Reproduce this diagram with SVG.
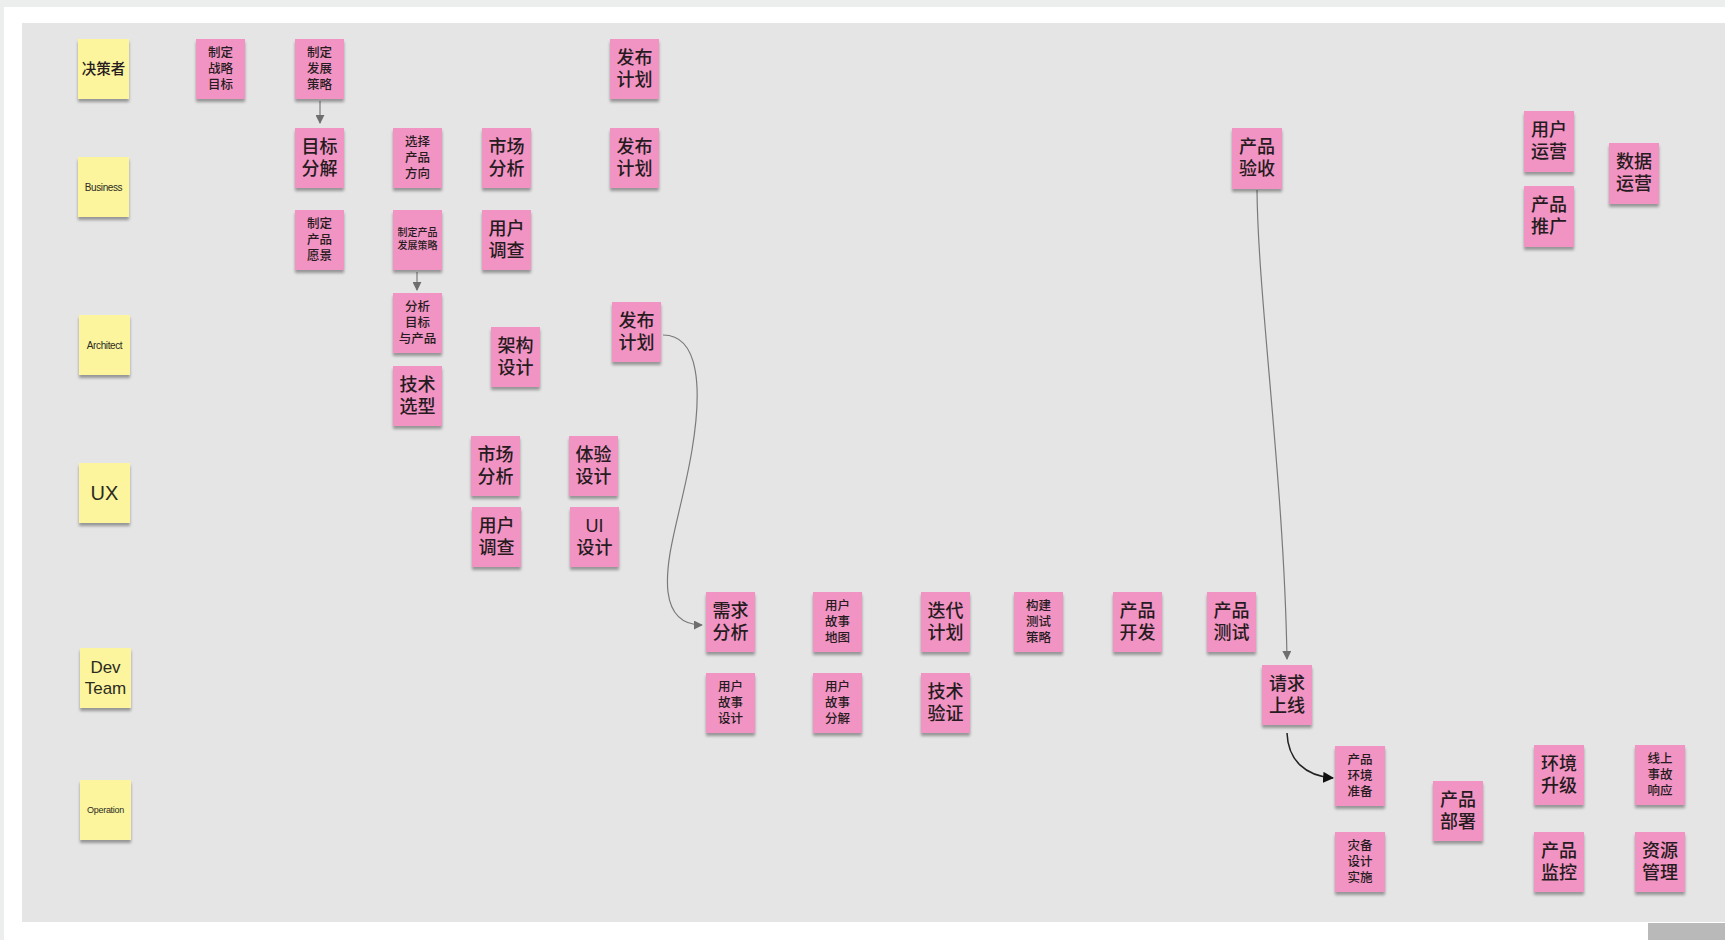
<svg xmlns="http://www.w3.org/2000/svg" width="1725" height="940" viewBox="0 0 1725 940">
<defs>
<filter id="sh" x="-20%" y="-20%" width="140%" height="150%">
<feDropShadow dx="0" dy="3" stdDeviation="1.8" flood-color="#000" flood-opacity="0.35"/>
</filter>
<marker id="ag" viewBox="0 0 10 10" refX="9" refY="5" markerWidth="9" markerHeight="9" markerUnits="userSpaceOnUse" orient="auto">
<path d="M0,0 L10,5 L0,10 z" fill="#6e6e6e"/>
</marker>
<marker id="ab" viewBox="0 0 10 10" refX="9" refY="5" markerWidth="11" markerHeight="11" markerUnits="userSpaceOnUse" orient="auto">
<path d="M0,0 L10,5 L0,10 z" fill="#111"/>
</marker>
</defs>
<style>
.p{fill:#f194c3;filter:url(#sh)}
.y{fill:#fcf59e;filter:url(#sh)}
text{font-family:"Liberation Sans","Noto Sans CJK SC",sans-serif;font-weight:500;fill:#261b20;text-anchor:middle;dominant-baseline:central}
.tl{font-size:18px}
.ts{font-size:12.5px}
.tt{font-size:10px}
.en{font-weight:400;fill:#2b2b1e}
.c{fill:none;stroke:#7a7a7a;stroke-width:1.2}
.cb{fill:none;stroke:#222;stroke-width:1.5}
</style>
<rect x="0" y="0" width="1725" height="940" fill="#ffffff"/>
<rect x="0" y="0" width="1725" height="7" fill="#eceeee"/>
<rect x="0" y="0" width="4" height="940" fill="#eceeee"/>
<rect x="22" y="23" width="1703" height="899" fill="#e5e5e5"/>
<rect x="1648" y="923" width="77" height="17" fill="#b9b9b9"/>

<g id="connectors">
<line class="c" x1="320" y1="101" x2="320" y2="123" marker-end="url(#ag)"/>
<line class="c" x1="417" y1="272" x2="417" y2="290" marker-end="url(#ag)"/>
<path class="c" d="M663,335 C700,335 702,390 692,450 S664,555 668,592 C671,616 684,625 702,625" marker-end="url(#ag)"/>
<path class="c" d="M1257,190 C1258,300 1284,480 1287,659" marker-end="url(#ag)"/>
<path class="cb" d="M1287,733 C1288,760 1305,776 1333,778" marker-end="url(#ab)"/>
</g>

<g id="lane-decider"><rect class="y" x="78" y="39" width="51" height="60"/><text x="103.5" y="69" font-size="14.5">决策者</text></g>
<g id="lane-business"><rect class="y" x="78" y="157" width="51" height="60"/><text class="en" x="103.5" y="187" font-size="10" letter-spacing="-0.4">Business</text></g>
<g id="lane-architect"><rect class="y" x="79" y="315" width="51" height="60"/><text class="en" x="104.5" y="345" font-size="10" letter-spacing="-0.4">Architect</text></g>
<g id="lane-ux"><rect class="y" x="79" y="463" width="51" height="60"/><text class="en" x="104.5" y="493" font-size="20">UX</text></g>
<g id="lane-dev"><rect class="y" x="80" y="648" width="51" height="60"/><text class="en" x="105.5" font-size="17"><tspan x="105.5" y="667">Dev</tspan><tspan x="105.5" y="688">Team</tspan></text></g>
<g id="lane-ops"><rect class="y" x="80" y="780" width="51" height="60"/><text class="en" x="105.5" y="810" font-size="9" letter-spacing="-0.3">Operation</text></g>

<g id="n-zhiding-zhanlue"><rect class="p" x="196" y="39" width="49" height="60"/><text class="ts"><tspan x="220.5" y="53">制定</tspan><tspan x="220.5" y="69">战略</tspan><tspan x="220.5" y="85">目标</tspan></text></g>
<g id="n-zhiding-fazhan"><rect class="p" x="295" y="39" width="49" height="60"/><text class="ts"><tspan x="319.5" y="53">制定</tspan><tspan x="319.5" y="69">发展</tspan><tspan x="319.5" y="85">策略</tspan></text></g>
<g id="n-fabu-1"><rect class="p" x="610" y="39" width="49" height="60"/><text class="tl"><tspan x="634.5" y="58">发布</tspan><tspan x="634.5" y="80">计划</tspan></text></g>

<g id="n-mubiao-fenjie"><rect class="p" x="295" y="128" width="49" height="60"/><text class="tl"><tspan x="319.5" y="147">目标</tspan><tspan x="319.5" y="169">分解</tspan></text></g>
<g id="n-xuanze"><rect class="p" x="393" y="128" width="49" height="60"/><text class="ts"><tspan x="417.5" y="142">选择</tspan><tspan x="417.5" y="158">产品</tspan><tspan x="417.5" y="174">方向</tspan></text></g>
<g id="n-shichang-1"><rect class="p" x="482" y="128" width="49" height="60"/><text class="tl"><tspan x="506.5" y="147">市场</tspan><tspan x="506.5" y="169">分析</tspan></text></g>
<g id="n-fabu-2"><rect class="p" x="610" y="128" width="49" height="60"/><text class="tl"><tspan x="634.5" y="147">发布</tspan><tspan x="634.5" y="169">计划</tspan></text></g>
<g id="n-chanpin-yanshou"><rect class="p" x="1232" y="128" width="50" height="61"/><text class="tl"><tspan x="1257" y="147">产品</tspan><tspan x="1257" y="169">验收</tspan></text></g>
<g id="n-yonghu-yunying"><rect class="p" x="1524" y="111" width="50" height="61"/><text class="tl"><tspan x="1549" y="130">用户</tspan><tspan x="1549" y="152">运营</tspan></text></g>
<g id="n-chanpin-tuiguang"><rect class="p" x="1524" y="186" width="50" height="61"/><text class="tl"><tspan x="1549" y="205">产品</tspan><tspan x="1549" y="227">推广</tspan></text></g>
<g id="n-shuju-yunying"><rect class="p" x="1609" y="143" width="50" height="61"/><text class="tl"><tspan x="1634" y="162">数据</tspan><tspan x="1634" y="184">运营</tspan></text></g>

<g id="n-yuanjing"><rect class="p" x="295" y="210" width="49" height="60"/><text class="ts"><tspan x="319.5" y="224">制定</tspan><tspan x="319.5" y="240">产品</tspan><tspan x="319.5" y="256">愿景</tspan></text></g>
<g id="n-chanpin-celue"><rect class="p" x="393" y="210" width="49" height="60"/><text class="tt"><tspan x="417.5" y="232">制定产品</tspan><tspan x="417.5" y="245">发展策略</tspan></text></g>
<g id="n-diaocha-1"><rect class="p" x="482" y="210" width="49" height="60"/><text class="tl"><tspan x="506.5" y="229">用户</tspan><tspan x="506.5" y="251">调查</tspan></text></g>

<g id="n-fenxi-mubiao"><rect class="p" x="393" y="293" width="49" height="60"/><text class="ts"><tspan x="417.5" y="307">分析</tspan><tspan x="417.5" y="323">目标</tspan><tspan x="417.5" y="339">与产品</tspan></text></g>
<g id="n-jiagou"><rect class="p" x="491" y="327" width="49" height="60"/><text class="tl"><tspan x="515.5" y="346">架构</tspan><tspan x="515.5" y="368">设计</tspan></text></g>
<g id="n-fabu-3"><rect class="p" x="612" y="302" width="49" height="60"/><text class="tl"><tspan x="636.5" y="321">发布</tspan><tspan x="636.5" y="343">计划</tspan></text></g>
<g id="n-jishu-xuanxing"><rect class="p" x="393" y="366" width="49" height="60"/><text class="tl"><tspan x="417.5" y="385">技术</tspan><tspan x="417.5" y="407">选型</tspan></text></g>

<g id="n-shichang-2"><rect class="p" x="471" y="436" width="49" height="60"/><text class="tl"><tspan x="495.5" y="455">市场</tspan><tspan x="495.5" y="477">分析</tspan></text></g>
<g id="n-tiyan"><rect class="p" x="569" y="436" width="49" height="60"/><text class="tl"><tspan x="593.5" y="455">体验</tspan><tspan x="593.5" y="477">设计</tspan></text></g>
<g id="n-diaocha-2"><rect class="p" x="472" y="507" width="49" height="60"/><text class="tl"><tspan x="496.5" y="526">用户</tspan><tspan x="496.5" y="548">调查</tspan></text></g>
<g id="n-ui"><rect class="p" x="570" y="507" width="49" height="60"/><text class="tl"><tspan x="594.5" y="526">UI</tspan><tspan x="594.5" y="548">设计</tspan></text></g>

<g id="n-xuqiu"><rect class="p" x="706" y="592" width="49" height="60"/><text class="tl"><tspan x="730.5" y="611">需求</tspan><tspan x="730.5" y="633">分析</tspan></text></g>
<g id="n-gushi-ditu"><rect class="p" x="813" y="592" width="49" height="60"/><text class="ts"><tspan x="837.5" y="606">用户</tspan><tspan x="837.5" y="622">故事</tspan><tspan x="837.5" y="638">地图</tspan></text></g>
<g id="n-diedai"><rect class="p" x="921" y="592" width="49" height="60"/><text class="tl"><tspan x="945.5" y="611">迭代</tspan><tspan x="945.5" y="633">计划</tspan></text></g>
<g id="n-ceshi-celue"><rect class="p" x="1014" y="592" width="49" height="60"/><text class="ts"><tspan x="1038.5" y="606">构建</tspan><tspan x="1038.5" y="622">测试</tspan><tspan x="1038.5" y="638">策略</tspan></text></g>
<g id="n-kaifa"><rect class="p" x="1113" y="592" width="49" height="60"/><text class="tl"><tspan x="1137.5" y="611">产品</tspan><tspan x="1137.5" y="633">开发</tspan></text></g>
<g id="n-ceshi"><rect class="p" x="1207" y="592" width="49" height="60"/><text class="tl"><tspan x="1231.5" y="611">产品</tspan><tspan x="1231.5" y="633">测试</tspan></text></g>
<g id="n-gushi-sheji"><rect class="p" x="706" y="673" width="49" height="60"/><text class="ts"><tspan x="730.5" y="687">用户</tspan><tspan x="730.5" y="703">故事</tspan><tspan x="730.5" y="719">设计</tspan></text></g>
<g id="n-gushi-fenjie"><rect class="p" x="813" y="673" width="49" height="60"/><text class="ts"><tspan x="837.5" y="687">用户</tspan><tspan x="837.5" y="703">故事</tspan><tspan x="837.5" y="719">分解</tspan></text></g>
<g id="n-jishu-yanzheng"><rect class="p" x="921" y="673" width="49" height="60"/><text class="tl"><tspan x="945.5" y="692">技术</tspan><tspan x="945.5" y="714">验证</tspan></text></g>
<g id="n-qingqiu"><rect class="p" x="1262" y="665" width="50" height="60"/><text class="tl"><tspan x="1287" y="684">请求</tspan><tspan x="1287" y="706">上线</tspan></text></g>

<g id="n-huanjing-zhunbei"><rect class="p" x="1335" y="746" width="50" height="60"/><text class="ts"><tspan x="1360" y="760">产品</tspan><tspan x="1360" y="776">环境</tspan><tspan x="1360" y="792">准备</tspan></text></g>
<g id="n-zaibei"><rect class="p" x="1335" y="832" width="50" height="60"/><text class="ts"><tspan x="1360" y="846">灾备</tspan><tspan x="1360" y="862">设计</tspan><tspan x="1360" y="878">实施</tspan></text></g>
<g id="n-bushu"><rect class="p" x="1433" y="781" width="50" height="60"/><text class="tl"><tspan x="1458" y="800">产品</tspan><tspan x="1458" y="822">部署</tspan></text></g>
<g id="n-huanjing-shengji"><rect class="p" x="1534" y="745" width="50" height="60"/><text class="tl"><tspan x="1559" y="764">环境</tspan><tspan x="1559" y="786">升级</tspan></text></g>
<g id="n-jiankong"><rect class="p" x="1534" y="832" width="50" height="60"/><text class="tl"><tspan x="1559" y="851">产品</tspan><tspan x="1559" y="873">监控</tspan></text></g>
<g id="n-shigu"><rect class="p" x="1635" y="745" width="50" height="60"/><text class="ts"><tspan x="1660" y="759">线上</tspan><tspan x="1660" y="775">事故</tspan><tspan x="1660" y="791">响应</tspan></text></g>
<g id="n-ziyuan"><rect class="p" x="1635" y="832" width="50" height="60"/><text class="tl"><tspan x="1660" y="851">资源</tspan><tspan x="1660" y="873">管理</tspan></text></g>
</svg>
